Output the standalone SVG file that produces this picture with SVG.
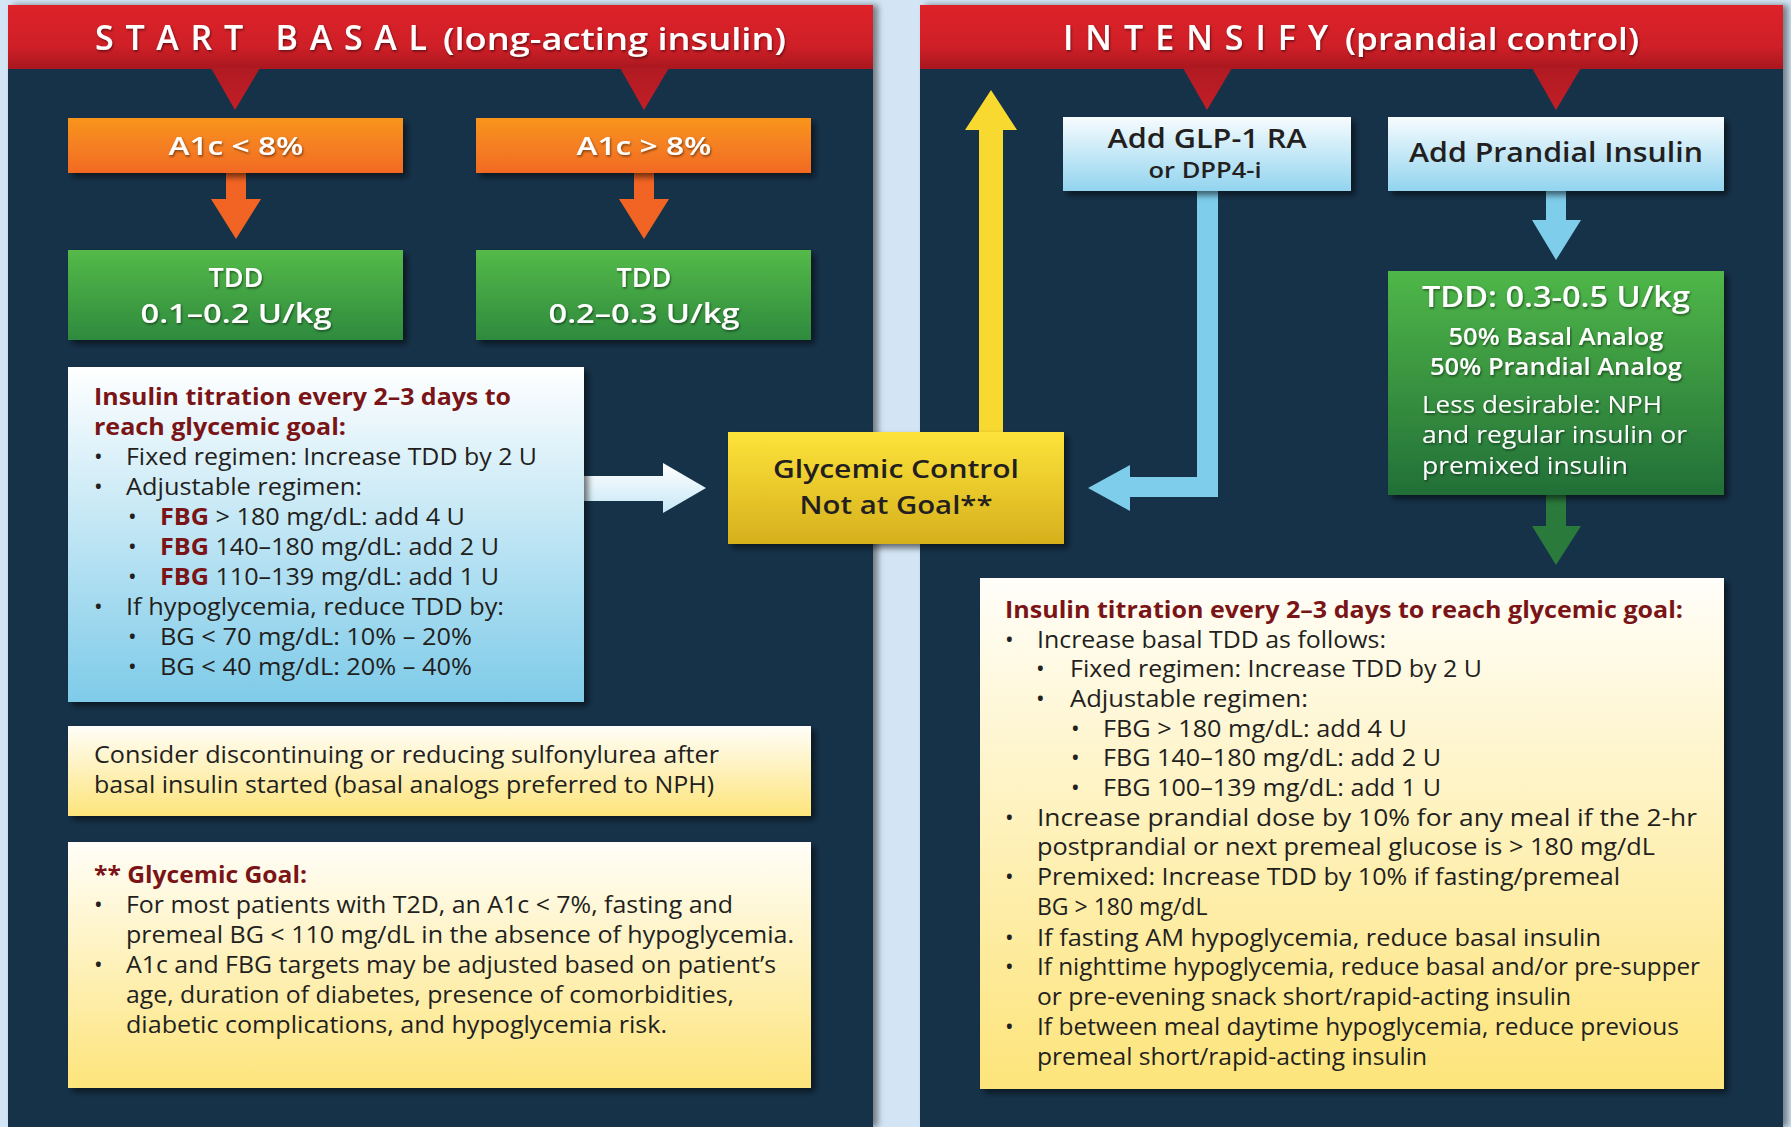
<svg xmlns="http://www.w3.org/2000/svg" width="1791" height="1127" viewBox="0 0 1791 1127">
<style>
text{font-family:"Open Sans","Noto Sans","DejaVu Sans",sans-serif;}
.body{font-size:23px;fill:#231f20;}
.hd{font-weight:700;fill:#7a1416;}
.red{font-weight:700;fill:#7a1416;}
.ttl{font-size:34px;font-weight:600;fill:#fff;}
.sub{font-size:31px;font-weight:600;fill:#fff;}
.wb{font-weight:600;fill:#fff;}
.dk{font-weight:600;fill:#231f20;}
.c{text-anchor:middle;}
</style>
<defs>
<linearGradient id="gRed" x1="0" y1="0" x2="0" y2="1"><stop offset="0" stop-color="#de2229"/><stop offset="0.65" stop-color="#cf1f27"/><stop offset="1" stop-color="#a9171f"/></linearGradient>
<linearGradient id="gTri" x1="0" y1="0" x2="0" y2="1"><stop offset="0" stop-color="#b01a22"/><stop offset="1" stop-color="#c41e27"/></linearGradient>
<linearGradient id="gOr" x1="0" y1="0" x2="0" y2="1"><stop offset="0" stop-color="#f8951e"/><stop offset="1" stop-color="#f26a23"/></linearGradient>
<linearGradient id="gGr" x1="0" y1="0" x2="0" y2="1"><stop offset="0" stop-color="#54ba48"/><stop offset="1" stop-color="#2e8a3e"/></linearGradient>
<linearGradient id="gGr2" x1="0" y1="0" x2="0" y2="1"><stop offset="0" stop-color="#4fb748"/><stop offset="1" stop-color="#226f38"/></linearGradient>
<linearGradient id="gBl" x1="0" y1="0" x2="0" y2="1"><stop offset="0" stop-color="#ffffff"/><stop offset="1" stop-color="#7ecbe9"/></linearGradient>
<linearGradient id="gBl2" x1="0" y1="0" x2="0" y2="1"><stop offset="0" stop-color="#f7fcfe"/><stop offset="1" stop-color="#92d4ef"/></linearGradient>
<linearGradient id="gYe" x1="0" y1="0" x2="0" y2="1"><stop offset="0" stop-color="#fde33a"/><stop offset="1" stop-color="#d6b01d"/></linearGradient>
<linearGradient id="gCr" x1="0" y1="0" x2="0" y2="1"><stop offset="0" stop-color="#fffef9"/><stop offset="1" stop-color="#fde47a"/></linearGradient>
<linearGradient id="gWa" x1="0" y1="0" x2="0" y2="1"><stop offset="0" stop-color="#ffffff"/><stop offset="1" stop-color="#c6e7f6"/></linearGradient>
<filter id="sh" x="-10%" y="-10%" width="120%" height="130%"><feDropShadow dx="4" dy="4" stdDeviation="3" flood-color="#000" flood-opacity="0.55"/></filter>
<filter id="psh" x="-5%" y="-5%" width="110%" height="110%"><feDropShadow dx="5" dy="0" stdDeviation="3" flood-color="#000" flood-opacity="0.45"/></filter>
<filter id="ts" x="-10%" y="-30%" width="120%" height="160%"><feDropShadow dx="1" dy="1.5" stdDeviation="1.2" flood-color="#000" flood-opacity="0.5"/></filter>
</defs>
<rect x="0" y="0" width="1791" height="1127" fill="#d3e5f5"/>

<g id="panel-left">
<rect x="8" y="5" width="865" height="1122" fill="#15304a" filter="url(#psh)"/>
<rect x="8" y="5" width="865" height="64" fill="url(#gRed)"/>
<polygon points="211,68 260,68 235,110" fill="url(#gTri)"/>
<polygon points="620,68 669,68 644,110" fill="url(#gTri)"/>
<g filter="url(#ts)">
<text class="ttl" x="95" y="50" textLength="332" lengthAdjust="spacing">START BASAL</text>
<text class="sub" x="443" y="50" textLength="343" lengthAdjust="spacingAndGlyphs">(long-acting insulin)</text>
</g>
</g>

<g id="panel-right">
<rect x="920" y="5" width="863" height="1122" fill="#15304a" filter="url(#psh)"/>
<rect x="920" y="5" width="863" height="64" fill="url(#gRed)"/>
<polygon points="1183,68 1232,68 1207,110" fill="url(#gTri)"/>
<polygon points="1532,68 1581,68 1556,110" fill="url(#gTri)"/>
<g filter="url(#ts)">
<text class="ttl" x="1063" y="50" textLength="265" lengthAdjust="spacing">INTENSIFY</text>
<text class="sub" x="1345" y="50" textLength="294" lengthAdjust="spacingAndGlyphs">(prandial control)</text>
</g>
</g>

<g id="connectors">
<polygon points="226,173 246,173 246,199 261,199 236,239 211,199 226,199" fill="#f26423"/>
<polygon points="634,173 654,173 654,199 669,199 644,239 619,199 634,199" fill="#f26423"/>
<polygon points="584,476 663,476 663,463 706,488 663,513 663,501 584,501" fill="url(#gWa)"/>
<polygon points="979,432 1003,432 1003,130 1017,130 991,90 965,130 979,130" fill="#f8d92f"/>
<polygon points="1197,191 1218,191 1218,497 1130,497 1130,511 1088,488 1130,465 1130,477 1197,477" fill="#7ecdea"/>
<polygon points="1546,191 1566,191 1566,220 1581,220 1556,260 1532,220 1546,220" fill="#7ecdea"/>
<polygon points="1546,495 1566,495 1566,526 1581,526 1556,565 1532,526 1546,526" fill="#2a7a3c"/>
</g>

<g id="a1c-low">
<rect x="68" y="118" width="335" height="55" fill="url(#gOr)" filter="url(#sh)"/>
<text class="wb c" x="236" y="155" font-size="26" filter="url(#ts)" textLength="135" lengthAdjust="spacingAndGlyphs">A1c &lt; 8%</text>
</g>
<g id="a1c-high">
<rect x="476" y="118" width="335" height="55" fill="url(#gOr)" filter="url(#sh)"/>
<text class="wb c" x="644" y="155" font-size="26" filter="url(#ts)" textLength="135" lengthAdjust="spacingAndGlyphs">A1c &gt; 8%</text>
</g>
<g id="tdd-low">
<rect x="68" y="250" width="335" height="90" fill="url(#gGr)" filter="url(#sh)"/>
<g filter="url(#ts)">
<text class="wb c" x="236" y="287" font-size="27">TDD</text>
<text class="wb c" x="236" y="323" font-size="27" textLength="191" lengthAdjust="spacingAndGlyphs">0.1–0.2 U/kg</text>
</g>
</g>
<g id="tdd-high">
<rect x="476" y="250" width="335" height="90" fill="url(#gGr)" filter="url(#sh)"/>
<g filter="url(#ts)">
<text class="wb c" x="644" y="287" font-size="27">TDD</text>
<text class="wb c" x="644" y="323" font-size="27" textLength="191" lengthAdjust="spacingAndGlyphs">0.2–0.3 U/kg</text>
</g>
</g>

<g id="titration-basal" class="body">
<rect x="68" y="367" width="516" height="335" fill="url(#gBl)" filter="url(#sh)"/>
<text class="body hd" x="94" y="405" textLength="417" lengthAdjust="spacingAndGlyphs">Insulin titration every 2–3 days to</text>
<text class="body hd" x="94" y="435" textLength="252" lengthAdjust="spacingAndGlyphs">reach glycemic goal:</text>
<text class="body" x="94" y="465">•</text><text class="body" x="126" y="465" textLength="411" lengthAdjust="spacingAndGlyphs">Fixed regimen: Increase TDD by 2 U</text>
<text class="body" x="94" y="495">•</text><text class="body" x="126" y="495" textLength="236" lengthAdjust="spacingAndGlyphs">Adjustable regimen:</text>
<text class="body" x="128" y="525">•</text><text class="body" x="160" y="525" textLength="305" lengthAdjust="spacingAndGlyphs"><tspan class="red">FBG</tspan> &gt; 180 mg/dL: add 4 U</text>
<text class="body" x="128" y="555">•</text><text class="body" x="160" y="555" textLength="339" lengthAdjust="spacingAndGlyphs"><tspan class="red">FBG</tspan> 140–180 mg/dL: add 2 U</text>
<text class="body" x="128" y="585">•</text><text class="body" x="160" y="585" textLength="339" lengthAdjust="spacingAndGlyphs"><tspan class="red">FBG</tspan> 110–139 mg/dL: add 1 U</text>
<text class="body" x="94" y="615">•</text><text class="body" x="126" y="615" textLength="378" lengthAdjust="spacingAndGlyphs">If hypoglycemia, reduce TDD by:</text>
<text class="body" x="128" y="645">•</text><text class="body" x="160" y="645" textLength="312" lengthAdjust="spacingAndGlyphs">BG &lt; 70 mg/dL: 10% – 20%</text>
<text class="body" x="128" y="675">•</text><text class="body" x="160" y="675" textLength="312" lengthAdjust="spacingAndGlyphs">BG &lt; 40 mg/dL: 20% – 40%</text>
</g>

<g id="glycemic-control">
<rect x="728" y="432" width="336" height="112" fill="url(#gYe)" filter="url(#sh)"/>
<text class="dk c" x="896" y="478" font-size="26" textLength="246" lengthAdjust="spacingAndGlyphs">Glycemic Control</text>
<text class="dk c" x="896" y="514" font-size="26" textLength="193" lengthAdjust="spacingAndGlyphs">Not at Goal**</text>
</g>

<g id="sulfonylurea-note">
<rect x="68" y="726" width="743" height="90" fill="url(#gCr)" filter="url(#sh)"/>
<text class="body" x="94" y="763" textLength="625" lengthAdjust="spacingAndGlyphs">Consider discontinuing or reducing sulfonylurea after</text>
<text class="body" x="94" y="793" textLength="620" lengthAdjust="spacingAndGlyphs">basal insulin started (basal analogs preferred to NPH)</text>
</g>

<g id="glycemic-goal">
<rect x="68" y="842" width="743" height="246" fill="url(#gCr)" filter="url(#sh)"/>
<text class="body hd" x="94" y="883" textLength="213" lengthAdjust="spacingAndGlyphs">** Glycemic Goal:</text>
<text class="body" x="94" y="913">•</text><text class="body" x="126" y="913" textLength="607" lengthAdjust="spacingAndGlyphs">For most patients with T2D, an A1c &lt; 7%, fasting and</text>
<text class="body" x="126" y="943" textLength="668" lengthAdjust="spacingAndGlyphs">premeal BG &lt; 110 mg/dL in the absence of hypoglycemia.</text>
<text class="body" x="94" y="973">•</text><text class="body" x="126" y="973" textLength="650" lengthAdjust="spacingAndGlyphs">A1c and FBG targets may be adjusted based on patient’s</text>
<text class="body" x="126" y="1003" textLength="608" lengthAdjust="spacingAndGlyphs">age, duration of diabetes, presence of comorbidities,</text>
<text class="body" x="126" y="1033" textLength="541" lengthAdjust="spacingAndGlyphs">diabetic complications, and hypoglycemia risk.</text>
</g>

<g id="add-glp1">
<rect x="1063" y="117" width="288" height="74" fill="url(#gBl2)" filter="url(#sh)"/>
<text class="dk c" x="1207" y="148" font-size="27" textLength="199" lengthAdjust="spacingAndGlyphs">Add GLP-1 RA</text>
<text class="dk c" x="1205" y="178" font-size="21" textLength="113" lengthAdjust="spacingAndGlyphs">or DPP4-i</text>
</g>

<g id="add-prandial">
<rect x="1388" y="117" width="336" height="74" fill="url(#gBl2)" filter="url(#sh)"/>
<text class="dk c" x="1556" y="162" font-size="27" textLength="294" lengthAdjust="spacingAndGlyphs">Add Prandial Insulin</text>
</g>

<g id="tdd-prandial">
<rect x="1388" y="271" width="336" height="224" fill="url(#gGr2)" filter="url(#sh)"/>
<g filter="url(#ts)">
<text class="wb c" x="1556" y="307" font-size="29" textLength="268" lengthAdjust="spacingAndGlyphs">TDD: 0.3-0.5 U/kg</text>
<text class="wb c" x="1556" y="345" font-size="23" font-weight="700" textLength="215" lengthAdjust="spacingAndGlyphs">50% Basal Analog</text>
<text class="wb c" x="1556" y="375" font-size="23" font-weight="700" textLength="252" lengthAdjust="spacingAndGlyphs">50% Prandial Analog</text>
<text fill="#fff" x="1422" y="413" font-size="23" textLength="240" lengthAdjust="spacingAndGlyphs">Less desirable: NPH</text>
<text fill="#fff" x="1422" y="443" font-size="23" textLength="265" lengthAdjust="spacingAndGlyphs">and regular insulin or</text>
<text fill="#fff" x="1422" y="474" font-size="23" textLength="206" lengthAdjust="spacingAndGlyphs">premixed insulin</text>
</g>
</g>

<g id="titration-prandial">
<rect x="980" y="578" width="744" height="511" fill="url(#gCr)" filter="url(#sh)"/>
<text class="body hd" x="1005" y="618" textLength="678" lengthAdjust="spacingAndGlyphs">Insulin titration every 2–3 days to reach glycemic goal:</text>
<text class="body" x="1005" y="648">•</text><text class="body" x="1037" y="648" textLength="349" lengthAdjust="spacingAndGlyphs">Increase basal TDD as follows:</text>
<text class="body" x="1036" y="677">•</text><text class="body" x="1070" y="677" textLength="412" lengthAdjust="spacingAndGlyphs">Fixed regimen: Increase TDD by 2 U</text>
<text class="body" x="1036" y="707">•</text><text class="body" x="1070" y="707" textLength="238" lengthAdjust="spacingAndGlyphs">Adjustable regimen:</text>
<text class="body" x="1071" y="737">•</text><text class="body" x="1103" y="737" textLength="304" lengthAdjust="spacingAndGlyphs">FBG &gt; 180 mg/dL: add 4 U</text>
<text class="body" x="1071" y="766">•</text><text class="body" x="1103" y="766" textLength="338" lengthAdjust="spacingAndGlyphs">FBG 140–180 mg/dL: add 2 U</text>
<text class="body" x="1071" y="796">•</text><text class="body" x="1103" y="796" textLength="338" lengthAdjust="spacingAndGlyphs">FBG 100–139 mg/dL: add 1 U</text>
<text class="body" x="1005" y="826">•</text><text class="body" x="1037" y="826" textLength="660" lengthAdjust="spacingAndGlyphs">Increase prandial dose by 10% for any meal if the 2-hr</text>
<text class="body" x="1037" y="855" textLength="618" lengthAdjust="spacingAndGlyphs">postprandial or next premeal glucose is &gt; 180 mg/dL</text>
<text class="body" x="1005" y="885">•</text><text class="body" x="1037" y="885" textLength="583" lengthAdjust="spacingAndGlyphs">Premixed: Increase TDD by 10% if fasting/premeal</text>
<text class="body" x="1037" y="915">BG &gt; 180 mg/dL</text>
<text class="body" x="1005" y="946">•</text><text class="body" x="1037" y="946" textLength="564" lengthAdjust="spacingAndGlyphs">If fasting AM hypoglycemia, reduce basal insulin</text>
<text class="body" x="1005" y="975">•</text><text class="body" x="1037" y="975" textLength="663" lengthAdjust="spacingAndGlyphs">If nighttime hypoglycemia, reduce basal and/or pre-supper</text>
<text class="body" x="1037" y="1005" textLength="534" lengthAdjust="spacingAndGlyphs">or pre-evening snack short/rapid-acting insulin</text>
<text class="body" x="1005" y="1035">•</text><text class="body" x="1037" y="1035" textLength="642" lengthAdjust="spacingAndGlyphs">If between meal daytime hypoglycemia, reduce previous</text>
<text class="body" x="1037" y="1065" textLength="390" lengthAdjust="spacingAndGlyphs">premeal short/rapid-acting insulin</text>
</g>
</svg>
